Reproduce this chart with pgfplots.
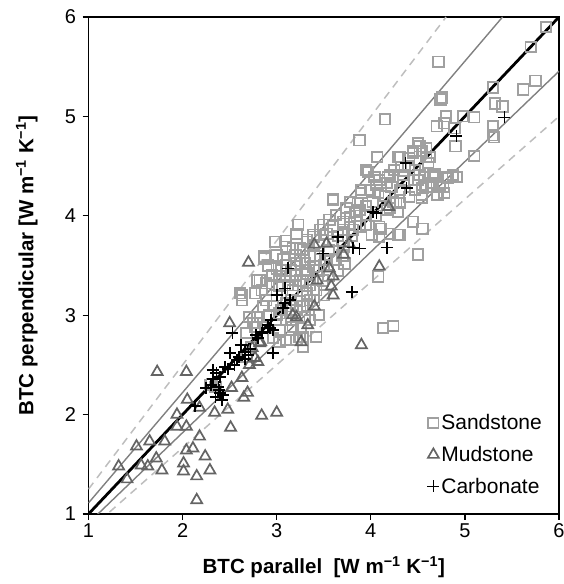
\documentclass[border=0pt]{standalone}
\usepackage{pgfplots}
\pgfplotsset{compat=1.18}
\usepackage{fontspec}
\setmainfont{Liberation Sans}
\definecolor{sand}{RGB}{160,160,160}
\definecolor{mud}{RGB}{100,100,100}
\definecolor{solidgray}{RGB}{128,128,128}
\definecolor{dashgray}{RGB}{190,190,190}
\begin{document}
\begin{tikzpicture}
\begin{axis}[
 scale only axis, width=470.5pt, height=497pt,
 xmin=1,xmax=6,ymin=1,ymax=6,
 xtick={1,2,3,4,5,6}, ytick={1,2,3,4,5,6},
 tick align=outside, tick pos=left,
 major tick length=6pt,
 every tick/.style={black, line width=1.2pt},
 axis line style={line width=1.4pt},
 ticklabel style={font=\fontsize{20}{20}\selectfont},
 yticklabel style={xshift=-3pt},
 /pgf/number format/assume math mode=true,
 xlabel={BTC parallel\ \ [W m\textsuperscript{−1} K\textsuperscript{−1}]},
 ylabel={BTC perpendicular [W m\textsuperscript{−1} K\textsuperscript{−1}]},
 every axis x label/.style={at={(rel axis cs:0.5,-0.1066)}, anchor=center, font=\fontsize{20.5}{22}\selectfont\bfseries},
 every axis y label/.style={at={(rel axis cs:-0.131,0.5)}, anchor=center, rotate=90, font=\fontsize{20.5}{22}\selectfont\bfseries},
 legend style={draw=none, fill=none, font=\fontsize{21}{21}\selectfont,
   at={(rel axis cs:1,0)}, anchor=south east, xshift=-15pt, yshift=17pt,
   row sep=11pt, inner sep=0pt},
 legend cell align=left,
 legend image code/.code={\draw[#1] plot coordinates {(0pt,0pt)};},
]
\coordinate (SW) at (rel axis cs:0,0);
\coordinate (NE) at (rel axis cs:1,1);
% reference lines
\addplot[forget plot, dashgray, line width=1.5pt, dash pattern=on 8pt off 6pt] coordinates {(1,1.25) (4.8,6)};
\addplot[forget plot, dashgray, line width=1.5pt, dash pattern=on 8pt off 6pt] coordinates {(1,0.8333) (6,5)};
\addplot[forget plot, solidgray, line width=1.4pt] coordinates {(1,1.1111) (5.4,6)};
\addplot[forget plot, solidgray, line width=1.4pt] coordinates {(1,0.90909) (6,5.4545)};
\addplot[forget plot, black, line width=2.8pt] coordinates {(1,1) (6,6)};
% Sandstone
\addplot[only marks, mark=square, mark size=5.2pt, sand, mark options={line width=1.8pt}] coordinates {
(5.86,5.90)(5.70,5.70)(4.72,5.55)(5.30,5.29)(5.62,5.27)(5.75,5.36)(4.74,5.17)(4.76,5.19)(5.32,5.13)(5.40,5.10)
(4.15,4.97)(4.80,5.00)(4.98,5.00)(5.10,4.99)(4.78,4.93)(4.70,4.90)(5.30,4.90)(5.30,4.81)(5.31,4.79)(4.89,4.88)
(4.90,4.70)(3.88,4.76)(5.10,4.60)(4.07,4.59)(4.31,4.59)(4.45,4.63)(4.52,4.70)(4.59,4.59)(4.61,4.53)(3.97,4.44)
(4.68,4.42)(4.87,4.41)(4.50,4.73)(4.45,4.65)(4.54,4.65)(4.59,4.68)(4.63,4.59)(4.41,4.58)(4.29,4.59)(4.32,4.49)
(4.25,4.46)(4.18,4.39)(4.34,4.41)(4.47,4.46)(4.50,4.36)(4.57,4.39)(4.68,4.39)(4.82,4.38)(4.91,4.39)(4.64,4.33)
(4.73,4.29)(4.78,4.23)(4.71,4.21)(4.54,4.21)(4.59,4.29)(4.47,4.26)(4.31,4.26)(4.22,4.29)(4.17,4.33)(4.09,4.36)
(4.04,4.39)(3.95,4.46)(3.90,4.26)(4.08,4.23)(4.02,4.14)(4.27,4.13)(4.20,4.08)
(3.60,4.17)(3.78,4.14)(3.90,4.23)(3.99,4.26)(4.06,4.31)(4.20,4.41)(4.52,4.41)(4.66,4.41)(4.80,4.39)(4.77,4.29)
(4.70,4.21)(4.55,4.28)(4.54,4.18)(4.41,4.19)(4.31,4.13)(4.24,4.14)(4.17,4.06)(4.29,4.04)(4.45,3.94)(4.55,3.87)
(4.11,3.87)(4.01,3.81)(4.09,3.79)(4.29,3.81)(3.95,3.91)(3.88,3.89)(4.50,3.61)(4.08,3.39)(4.13,2.87)(4.24,2.89)
(3.71,3.94)(3.78,3.92)(3.81,3.86)(3.71,3.86)(3.83,4.04)(3.95,4.01)(3.86,4.13)(3.74,4.08)(3.63,4.01)(3.56,3.96)
(3.49,3.91)(3.46,3.86)(3.39,3.81)(3.32,3.76)(3.28,3.66)(3.35,3.59)(3.30,3.52)(3.28,3.35)(3.32,3.22)(3.28,3.09)
(3.30,2.98)(3.24,2.78)(3.28,2.68)
(3.23,3.91)(3.21,3.82)(2.98,3.74)(3.10,3.69)(3.17,3.67)(3.25,3.67)(3.32,3.74)(3.39,3.79)(3.53,3.82)(2.87,3.57)
(2.91,3.50)(3.07,3.56)(3.00,3.47)(3.03,3.39)(2.82,3.35)(2.84,3.25)(2.61,3.22)(2.63,3.20)(2.89,3.15)(2.86,3.09)
(2.96,3.09)(3.03,3.02)(3.10,3.12)(3.17,3.09)(3.25,3.14)(3.32,3.19)(3.39,3.25)(3.17,3.25)(3.25,3.35)(3.32,3.42)
(3.39,3.49)(3.46,3.56)(3.35,3.59)(3.21,3.52)(3.10,3.39)(3.03,3.29)(2.89,3.32)(2.75,2.92)(2.79,2.98)(2.89,2.88)
(3.03,2.85)(3.17,2.88)(3.25,2.78)(3.10,2.75)(2.96,2.77)
(4.09,3.89)(3.72,3.52)(2.87,3.59)(2.79,3.35)(2.77,3.22)(2.71,2.98)(2.77,2.88)(3.03,2.73)(3.21,2.75)(3.42,2.78)
(3.26,2.87)(3.49,3.86)(3.60,3.89)(3.71,3.92)(3.78,3.99)(3.88,4.06)(3.53,3.56)(3.63,3.56)(3.42,3.45)(3.71,3.69)
(3.35,2.95)(3.14,3.02)(3.25,3.09)(3.35,3.15)(3.42,3.25)(3.49,3.35)
(4.20,3.82)(4.31,3.81)(2.79,2.92)(3.28,2.78)(3.10,2.95)(3.21,3.05)(3.32,3.10)(2.68,2.82)(2.73,2.68)(2.68,2.58)
(2.31,2.31)(2.63,3.15)(2.29,2.30)(2.35,2.28)(3.60,4.16)
(3.00,3.60)(3.10,3.50)(3.15,3.45)(3.20,3.40)(3.05,3.45)(3.12,3.30)(3.20,3.30)(3.00,3.20)(2.95,3.30)(3.15,3.15)
(3.35,3.30)(3.45,3.45)(3.55,3.65)(3.60,3.75)(3.65,3.80)(3.45,3.70)(3.25,3.55)(3.40,3.60)(3.50,3.50)(3.30,3.45)
(3.05,3.05)(2.92,3.00)(3.15,2.95)(3.85,4.00)(3.95,4.10)(4.05,4.00)(4.15,4.20)(4.35,4.35)(4.40,4.50)(3.70,3.75)
(3.80,3.80)(3.20,3.60)(3.10,3.75)(3.00,3.00)(2.95,3.40)(3.40,3.15)(3.45,3.00)(3.50,3.20)(3.55,3.40)(3.65,3.45)
(3.70,3.60)
};
\addlegendentry{Sandstone}
% Mudstone
\addplot[only marks, mark=triangle, mark size=6.3pt, mud, mark options={line width=1.7pt}] coordinates {
(1.73,2.43)(2.04,2.43)(2.05,2.15)(1.94,2.00)(2.18,2.07)(2.34,2.02)(2.48,2.05)(2.51,1.87)(2.52,2.27)(2.69,2.22)
(2.65,2.17)(2.84,1.99)(3.00,2.02)(2.63,2.37)(2.77,2.57)(2.74,2.67)(2.83,2.73)(3.26,2.73)(1.94,1.88)(2.04,1.88)
(2.18,1.78)(1.65,1.73)(1.51,1.68)(1.81,1.73)(2.04,1.64)(2.11,1.66)(2.24,1.58)(1.72,1.56)(1.56,1.49)(1.63,1.48)
(1.78,1.44)(2.01,1.51)(2.01,1.43)(2.29,1.44)(2.15,1.38)(2.15,1.14)(1.32,1.48)(1.41,1.35)(2.50,2.92)(3.33,2.90)
(3.40,3.09)(3.17,3.00)(2.71,2.50)(2.80,2.53)(2.82,2.72)(3.40,3.71)(3.53,3.72)(3.71,3.61)(3.77,3.72)(3.56,3.47)
(3.43,3.35)(3.60,3.39)(3.58,3.29)(3.60,3.20)(3.21,2.98)(3.90,2.70)(4.09,3.49)(4.19,4.09)(2.70,3.53)
};
\addlegendentry{Mudstone}
% Carbonate
\addplot[only marks, mark=+, mark size=6pt, black, mark options={line width=1.7pt}] coordinates {
(5.42,4.99)(4.91,4.80)(4.37,4.53)(4.38,4.28)(4.02,4.04)(4.06,4.03)(3.65,3.79)(3.49,3.62)(3.81,3.68)(3.88,3.67)
(4.17,3.68)(3.80,3.23)(3.12,3.47)(3.09,3.27)(3.00,3.20)(3.14,3.15)(3.09,3.12)(3.07,3.07)(2.94,2.95)(2.93,2.87)
(2.85,2.83)(2.96,2.85)(2.91,2.90)(2.84,2.82)(2.80,2.77)(2.96,2.62)(2.53,2.82)(2.62,2.70)(2.66,2.63)(2.60,2.58)
(2.70,2.60)(2.66,2.56)(2.72,2.66)(2.50,2.62)(2.32,2.45)(2.36,2.42)(2.45,2.48)(2.48,2.46)(2.32,2.36)(2.40,2.38)
(2.40,2.22)(2.42,2.15)(2.39,2.25)(2.25,2.27)(2.13,2.09)(2.30,2.30)(2.35,2.18)(2.43,2.20)(2.38,2.28)(2.55,2.50)
(2.58,2.55)(2.78,2.80)
};
\addlegendentry{Carbonate}
\end{axis}
\pgfresetboundingbox
\path[use as bounding box] ([shift={(-88.5pt,-70pt)}]SW) rectangle ([shift={(4pt,17pt)}]NE);
\end{tikzpicture}
\end{document}
